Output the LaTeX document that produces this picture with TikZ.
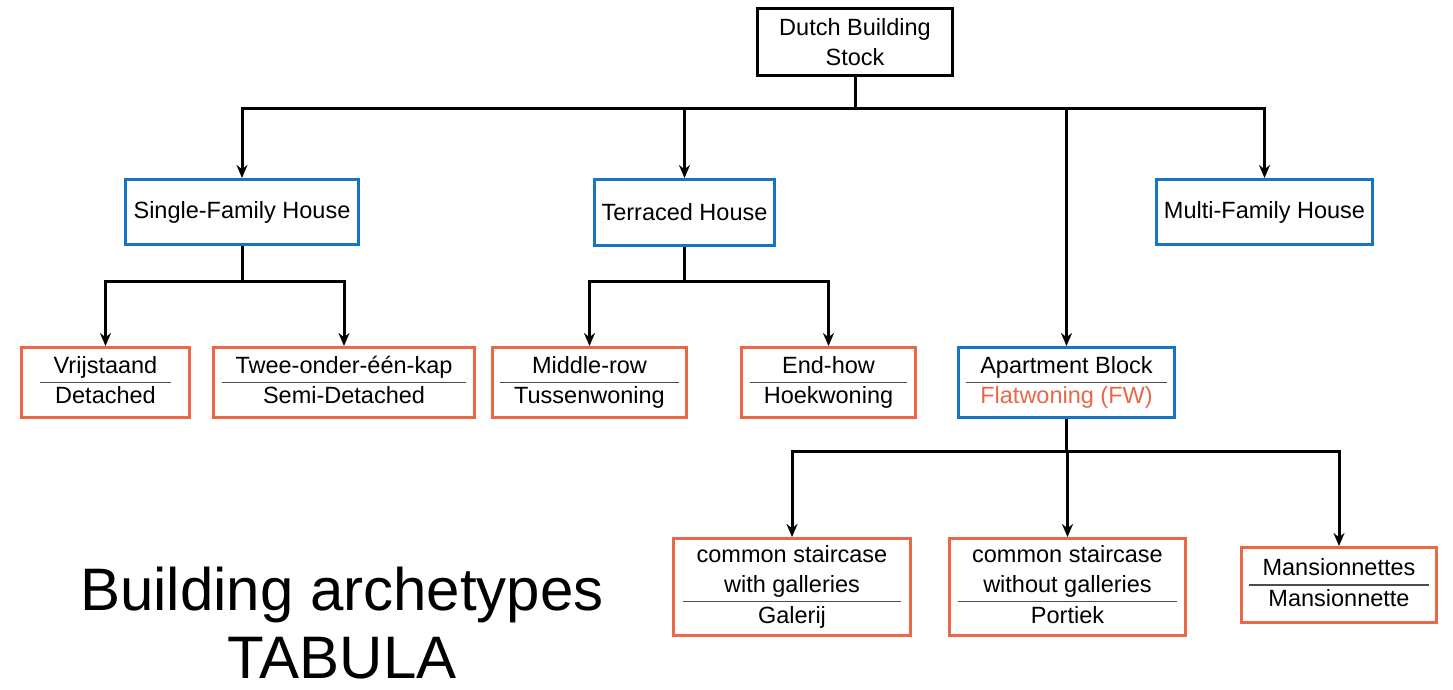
\documentclass[tikz,border=0pt]{standalone}
\usepackage{fontspec}
\setmainfont{Liberation Sans}
\usepackage{colortbl}
\usetikzlibrary{arrows.meta}

\definecolor{catblue}{RGB}{22,118,196}
\definecolor{typeorange}{RGB}{233,104,72}

% two labels stacked with a rule between them
\newcommand{\pairtab}[2]{{\setlength{\tabcolsep}{14pt}%
  \arrayrulecolor{black!70}\setlength{\arrayrulewidth}{1.2pt}%
  \begin{tabular}{c}#1\\\hline #2\end{tabular}}}

\tikzset{
  box/.style={draw, line width=3pt, inner sep=0pt, align=center,
    font=\fontsize{23.5}{29.5}\selectfont},
  rootbox/.style={box, draw=black},
  catbox/.style={box, draw=catblue},
  typebox/.style={box, draw=typeorange},
  link/.style={line width=3pt, -{Stealth[length=13pt,width=11pt]}},
  titletext/.style={inner sep=0pt, font=\fontsize{60}{67}\selectfont},
}

\begin{document}
\begin{tikzpicture}[x=1pt,y=-1pt]
  \useasboundingbox[fill=white] (0,0) rectangle (1453,689);

  % root
  \node[rootbox, minimum width=195pt, minimum height=67pt] (root) at (855,42) {Dutch Building\\Stock};

  % main categories
  \node[catbox, minimum width=233pt, minimum height=65pt] (sfh) at (242,212) {Single-Family House};
  \node[catbox, minimum width=180pt, minimum height=66pt] (ter) at (684.5,212.5) {Terraced House};
  \node[catbox, minimum width=216pt, minimum height=65pt] (mfh) at (1264.5,212) {Multi-Family House};

  % types
  \node[typebox, minimum width=168pt, minimum height=70pt] (vri) at (105.5,382.5) {\pairtab{Vrijstaand}{Detached}};
  \node[typebox, minimum width=261pt, minimum height=70pt] (twe) at (344,382.5) {\pairtab{Twee-onder-één-kap}{Semi-Detached}};
  \node[typebox, minimum width=194pt, minimum height=70pt] (mid) at (589.5,382.5) {\pairtab{Middle-row}{Tussenwoning}};
  \node[typebox, minimum width=174pt, minimum height=70pt] (end) at (828.5,382.5) {\pairtab{End-how}{Hoekwoning}};
  \node[catbox, minimum width=216pt, minimum height=70pt] (apt) at (1066.5,382.5) {\pairtab{Apartment Block}{\textcolor{typeorange}{Flatwoning (FW)}}};

  % apartment sub-types
  \node[typebox, minimum width=237pt, minimum height=97pt] (gal) at (792,587) {\pairtab{common staircase\\with galleries}{Galerij}};
  \node[typebox, minimum width=236pt, minimum height=97pt] (por) at (1067.5,587) {\pairtab{common staircase\\without galleries}{Portiek}};
  \node[typebox, minimum width=195pt, minimum height=75pt] (man) at (1339,585) {\pairtab{Mansionnettes}{Mansionnette}};

  % bus levels
  \coordinate (busA) at (0,108);
  \coordinate (busB) at (0,281);
  \coordinate (busC) at (0,451);

  \draw[link] (root.south) -- (root.south |- busA) -| (sfh.north);
  \draw[link] (root.south) -- (root.south |- busA) -| (ter.north);
  \draw[link] (root.south) -- (root.south |- busA) -| (apt.north);
  \draw[link] (root.south) -- (root.south |- busA) -| (mfh.north);

  \draw[link] (sfh.south) -- (sfh.south |- busB) -| (vri.north);
  \draw[link] (sfh.south) -- (sfh.south |- busB) -| (twe.north);
  \draw[link] (ter.south) -- (ter.south |- busB) -| (mid.north);
  \draw[link] (ter.south) -- (ter.south |- busB) -| (end.north);

  \draw[link] (apt.south) -- (apt.south |- busC) -| (gal.north);
  \draw[link] (apt.south) -- (apt.south |- busC) -| (por.north);
  \draw[link] (apt.south) -- (apt.south |- busC) -| (man.north);

  % caption
  \node[titletext, anchor=base] (title1) at (342,610) {Building archetypes};
  \node[titletext, anchor=base] (title2) at (342,678) {TABULA};
\end{tikzpicture}
\end{document}
